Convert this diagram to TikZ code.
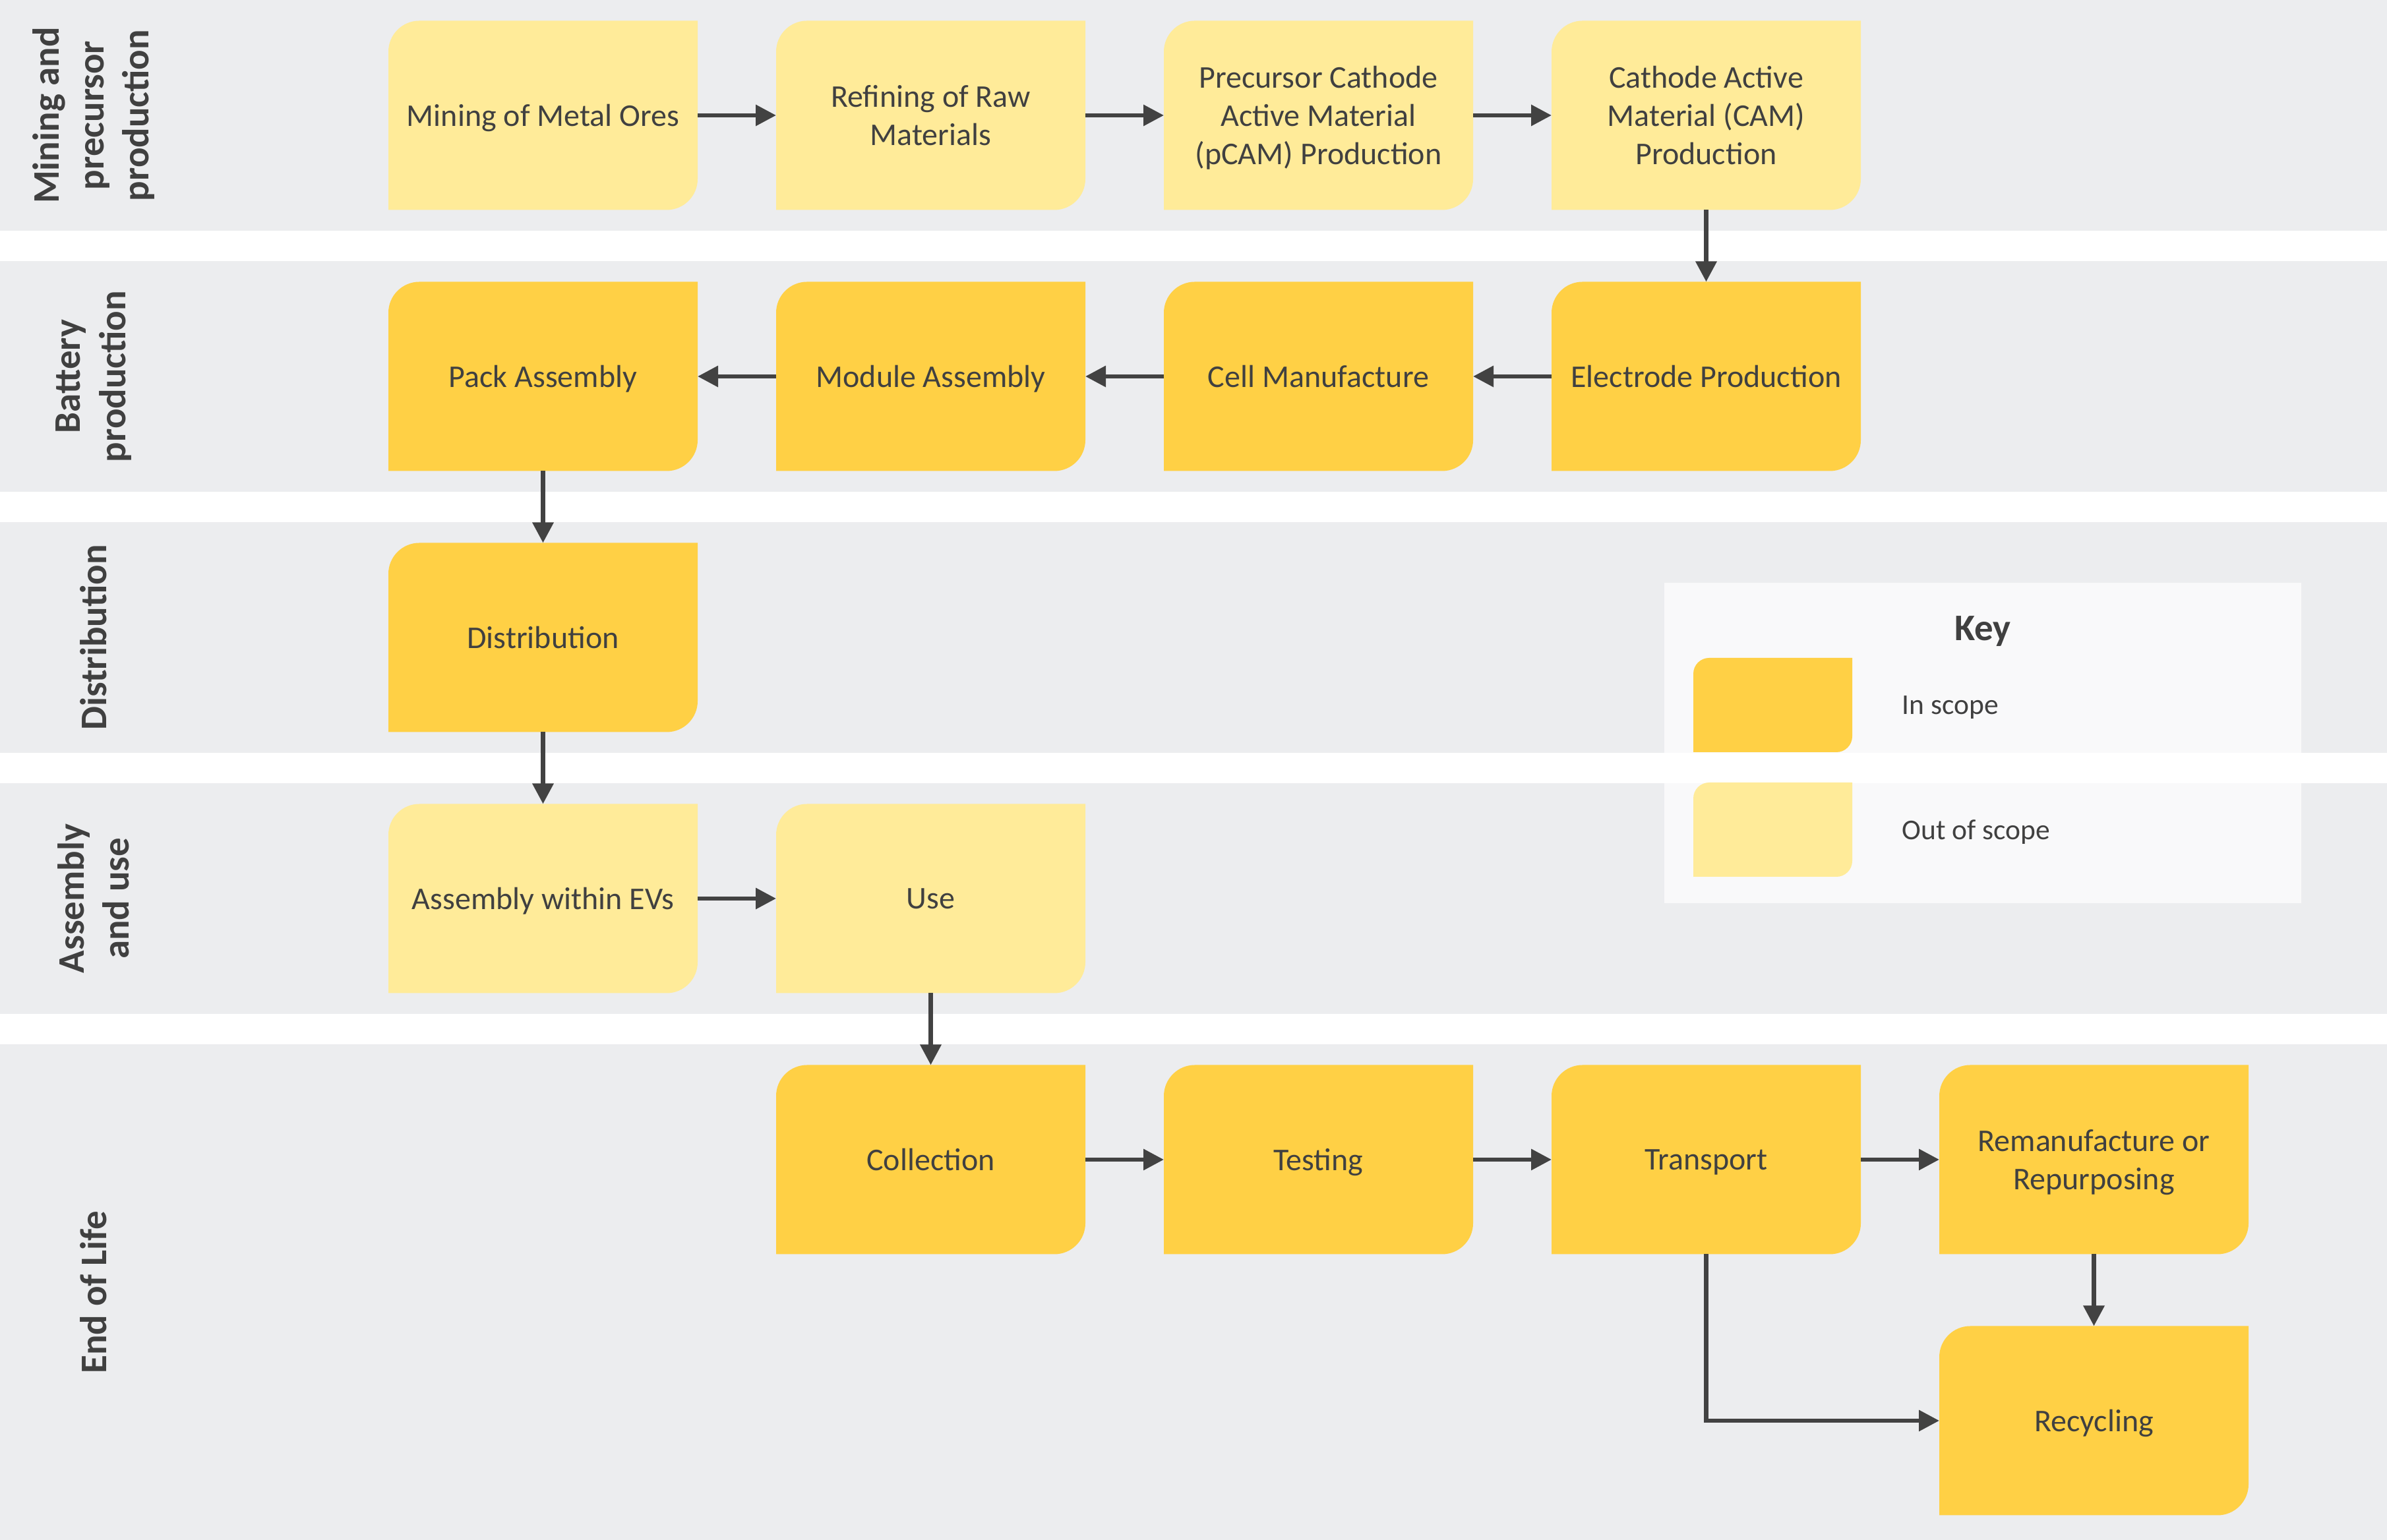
\documentclass[tikz,border=0pt]{standalone}
\usepackage{fontspec}
\setmainfont{Carlito}
\usepackage{tikz}
\usetikzlibrary{arrows.meta}
\definecolor{lanegray}{HTML}{ECEDEF}
\definecolor{inscope}{HTML}{FFD045}
\definecolor{outscope}{HTML}{FFEB99}
\definecolor{ink}{HTML}{404040}
\definecolor{arrowgray}{HTML}{424242}
\newcommand{\stagebox}[4]{%
  \fill[#3] ([shift={(2.345,1.435)}]#2) -- ++(-4.22,0) arc[start angle=90,end angle=180,radius=0.47] -- ++(0,-2.4) -- ++(4.22,0) arc[start angle=270,end angle=360,radius=0.47] -- cycle;
  \node[stage] (#1) at (#2) {#4};}

\begin{document}
\begin{tikzpicture}[stage/.style={minimum width=4.69cm,minimum height=2.87cm,inner sep=0pt,outer sep=0pt,text depth=0pt,align=center,text=ink,font=\fontsize{13.66}{16.4}\selectfont}, lanelabel/.style={rotate=90,align=center,text=ink,font=\fontsize{16.2}{19.4}\selectfont\bfseries}, keytext/.style={anchor=west,text=ink,inner sep=0pt,text depth=0pt,font=\fontsize{12.38}{14.8}\selectfont}, arr/.style={-{Triangle[length=3.1mm 0,width=3.1mm 0]},line width=0.065cm,draw=arrowgray}]
\useasboundingbox (0,0) rectangle (36.2,23.36);
\fill[lanegray] (0,0) rectangle (36.2,23.36);
\foreach \y in {19.40,15.44,11.48,7.52} \fill[white] (0,\y) rectangle (36.2,\y+0.46);
\fill[white,fill opacity=0.7] (25.24,9.66) rectangle (34.90,14.52);
\node[lanelabel] (lane1) at (1.42,21.61) {Mining and\\precursor\\production};
\node[lanelabel] (lane2) at (1.42,17.65) {Battery\\production};
\node[lanelabel] (lane3) at (1.42,13.69) {Distribution};
\node[lanelabel] (lane4) at (1.42,9.73) {Assembly\\and use};
\node[lanelabel] (lane5) at (1.42,3.76) {End of Life};
\node[anchor=base,text=ink,font=\fontsize{16.2}{19.4}\selectfont\bfseries] (keytitle) at (30.07,13.64) {Key};
\fill[inscope] (28.09,13.38) -- (25.92,13.38) arc[start angle=90,end angle=180,radius=0.24] -- (25.68,11.95) -- (27.85,11.95) arc[start angle=270,end angle=360,radius=0.24] -- cycle;
\fill[outscope] (28.09,11.49) -- (25.92,11.49) arc[start angle=90,end angle=180,radius=0.24] -- (25.68,10.06) -- (27.85,10.06) arc[start angle=270,end angle=360,radius=0.24] -- cycle;
\node[keytext] (keyin) at (28.84,12.665) {In scope};
\node[keytext] (keyout) at (28.84,10.775) {Out of scope};
\stagebox{mine}{8.235,21.61}{outscope}{Mining of Metal Ores}
\stagebox{refine}{14.115,21.61}{outscope}{Refining of Raw\\Materials}
\stagebox{pcam}{19.995,21.61}{outscope}{Precursor Cathode\\Active Material\\(pCAM) Production}
\stagebox{cam}{25.875,21.61}{outscope}{Cathode Active\\Material (CAM)\\Production}
\stagebox{electrode}{25.875,17.65}{inscope}{Electrode Production}
\stagebox{cell}{19.995,17.65}{inscope}{Cell Manufacture}
\stagebox{module}{14.115,17.65}{inscope}{Module Assembly}
\stagebox{pack}{8.235,17.65}{inscope}{Pack Assembly}
\stagebox{distrib}{8.235,13.69}{inscope}{Distribution}
\stagebox{assembly}{8.235,9.73}{outscope}{Assembly within EVs}
\stagebox{use}{14.115,9.73}{outscope}{Use}
\stagebox{collect}{14.115,5.77}{inscope}{Collection}
\stagebox{test}{19.995,5.77}{inscope}{Testing}
\stagebox{transport}{25.875,5.77}{inscope}{Transport}
\stagebox{reman}{31.755,5.77}{inscope}{Remanufacture or\\Repurposing}
\stagebox{recycle}{31.755,1.81}{inscope}{Recycling}
\draw[arr] (mine)--(refine); \draw[arr] (refine)--(pcam); \draw[arr] (pcam)--(cam); \draw[arr] (cam)--(electrode);
\draw[arr] (electrode)--(cell); \draw[arr] (cell)--(module); \draw[arr] (module)--(pack); \draw[arr] (pack)--(distrib);
\draw[arr] (distrib)--(assembly); \draw[arr] (assembly)--(use); \draw[arr] (use)--(collect);
\draw[arr] (collect)--(test); \draw[arr] (test)--(transport); \draw[arr] (transport)--(reman); \draw[arr] (reman)--(recycle);
\draw[arr] (transport) |- (recycle);
\end{tikzpicture}
\end{document}
